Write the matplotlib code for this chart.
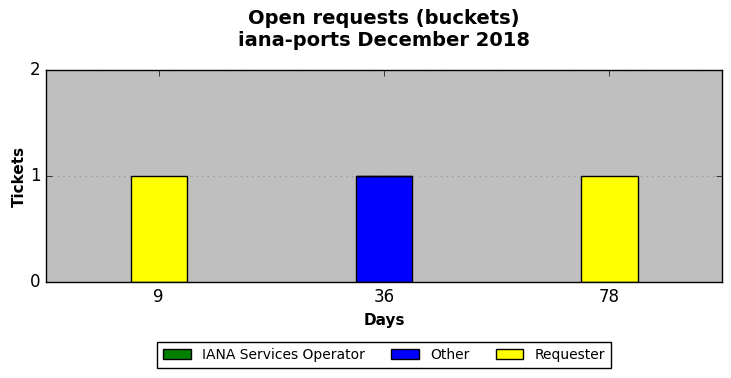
import numpy as np
import matplotlib
matplotlib.use("Agg")
import matplotlib.pyplot as plt

plt.style.use("classic")

dias = ["9", "36", "78"]
operador = [0, 0, 0]
otro = [0, 1, 0]
solicitante = [1, 0, 1]

series = [
    ("IANA Services Operator", operador, "green"),
    ("Other", otro, "blue"),
    ("Requester", solicitante, "yellow"),
]

fig = plt.figure(figsize=(7.31, 3.78), dpi=100)
ax = fig.add_axes([46 / 731, 1 - 282 / 378, 676 / 731, 212 / 378])
ax.set_facecolor("#bfbfbf")

x = np.arange(len(dias))
base = np.zeros(len(dias))
barras = []
for nombre, valores, color in series:
    b = ax.bar(x, valores, 0.25, bottom=base, color=color, edgecolor="black",
               linewidth=1, align="center", label=nombre)
    barras.append(b)
    base = base + np.array(valores)

ax.set_xlim(-0.5, len(dias) - 0.5)
ax.set_ylim(0, 2)
ax.set_xticks(x)
ax.set_xticklabels(dias, fontsize=12)
ax.set_yticks([0, 1, 2])
ax.tick_params(axis="y", labelsize=12)
ax.yaxis.grid(True, linestyle=":", color="#999999", linewidth=0.8)
ax.set_axisbelow(True)

ax.set_xlabel("Days", fontsize=11, fontweight="bold")
ax.set_ylabel("Tickets", fontsize=11, fontweight="bold", labelpad=2)
fig.suptitle("Open requests (buckets)\niana-ports December 2018",
             fontsize=14, fontweight="bold", x=384 / 731, y=0.975)

fig.legend(handles=barras, loc="center", ncol=3, fontsize=10,
           bbox_to_anchor=(384 / 731, 1 - 355 / 378), frameon=True,
           handlelength=2.0, columnspacing=1.9)

plt.savefig("out.png", dpi=100)
plt.close()
